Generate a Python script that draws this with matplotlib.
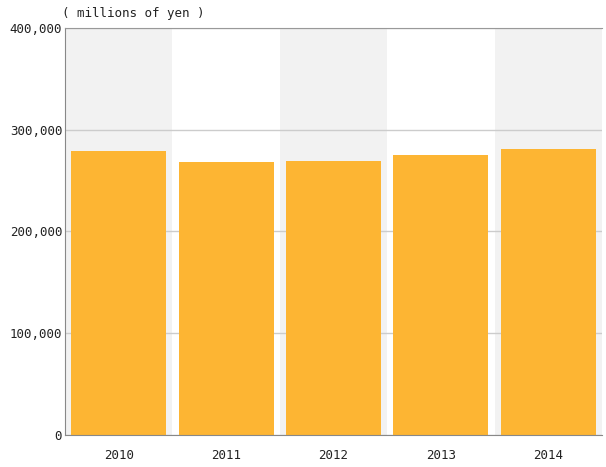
import matplotlib.pyplot as plt
from matplotlib.ticker import FuncFormatter

years = ['2010', '2011', '2012', '2013', '2014']
values = [279000, 268000, 269600, 274900, 281400]
yticks = [0, 100000, 200000, 300000, 400000]

plt.rcParams['font.family'] = ['DejaVu Sans Mono']

fig = plt.figure(figsize=(6.06, 4.67), dpi=100)
ax = fig.add_axes([65 / 606, 32 / 467, 537 / 606, 407 / 467])

x = range(len(years))
# alternating background bands
for i in x:
    if i % 2 == 0:
        ax.axvspan(i - 0.5, i + 0.5, color='#f2f2f2', zorder=0, lw=0)

ax.bar(x, values, width=0.885, color='#fdb533', zorder=2)

ax.set_xlim(-0.5, len(years) - 0.5)
ax.set_ylim(0, 400000)
ax.set_yticks(yticks)
ax.yaxis.set_major_formatter(FuncFormatter(lambda v, p: '{:,}'.format(int(v))))
ax.set_xticks(list(x))
ax.set_xticklabels(years)
ax.grid(axis='y', color='#cccccc', lw=1, zorder=1)
ax.set_axisbelow(True)
ax.tick_params(length=0, labelsize=9, colors='#222222')
ax.tick_params(axis='x', pad=10)
ax.tick_params(axis='y', pad=2)

for s in ['left', 'bottom']:
    ax.spines[s].set_color('#888888')
ax.spines['top'].set_color('#999999')
ax.spines['right'].set_visible(False)

fig.text(62 / 606, 1 - 13 / 467, '( millions of yen )', fontsize=9,
         va='center', ha='left', color='#222222')

fig.savefig('out.png', dpi=100)
